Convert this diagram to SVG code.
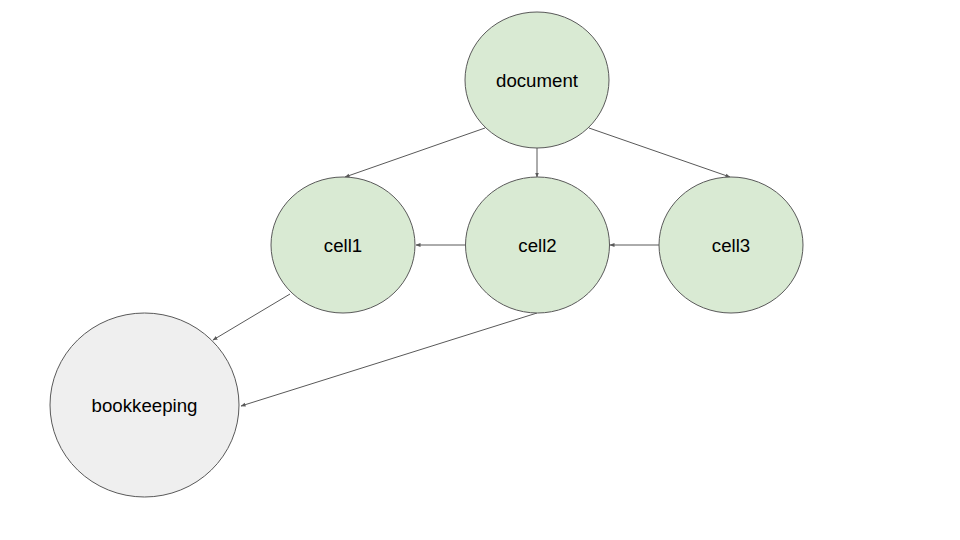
<svg xmlns="http://www.w3.org/2000/svg" width="960" height="540" viewBox="0 0 960 540">
<style>
.n{stroke:#595959;stroke-width:1}
.g{fill:#d9ead3}
.w{fill:#efefef}
.t{font-family:"Liberation Sans",Arial,sans-serif;font-size:18.67px;fill:#000;text-anchor:middle}
.e{stroke:#595959;stroke-width:1;fill:none;marker-end:url(#ah)}
</style>
<defs>
<marker id="ah" viewBox="0 0 10 10" refX="9" refY="5" markerWidth="5" markerHeight="5" orient="auto" markerUnits="userSpaceOnUse">
<path d="M0,1 L10,5 L0,9 z" fill="#595959"/>
</marker>
</defs>
<rect width="960" height="540" fill="#fff"/>
<g id="connectors">
<line class="e" x1="485" y1="128" x2="345" y2="177"/>
<line class="e" x1="537" y1="148" x2="537" y2="177"/>
<line class="e" x1="589" y1="128" x2="730" y2="177"/>
<line class="e" x1="465" y1="245" x2="416" y2="245"/>
<line class="e" x1="659" y1="245" x2="610" y2="245"/>
<line class="e" x1="290" y1="294" x2="213" y2="340"/>
<line class="e" x1="537" y1="313" x2="241" y2="406"/>
</g>
<g id="document">
<ellipse class="n g" cx="537" cy="80" rx="72" ry="68"/>
<text class="t" x="537" y="87">document</text>
</g>
<g id="cell1">
<ellipse class="n g" cx="343" cy="245" rx="72" ry="68"/>
<text class="t" x="343" y="252">cell1</text>
</g>
<g id="cell2">
<ellipse class="n g" cx="537.5" cy="245" rx="72" ry="68"/>
<text class="t" x="537.5" y="252">cell2</text>
</g>
<g id="cell3">
<ellipse class="n g" cx="731" cy="245" rx="72" ry="68"/>
<text class="t" x="731" y="252">cell3</text>
</g>
<g id="bookkeeping">
<ellipse class="n w" cx="144.5" cy="405" rx="94.5" ry="92"/>
<text class="t" x="144.5" y="412">bookkeeping</text>
</g>
</svg>
